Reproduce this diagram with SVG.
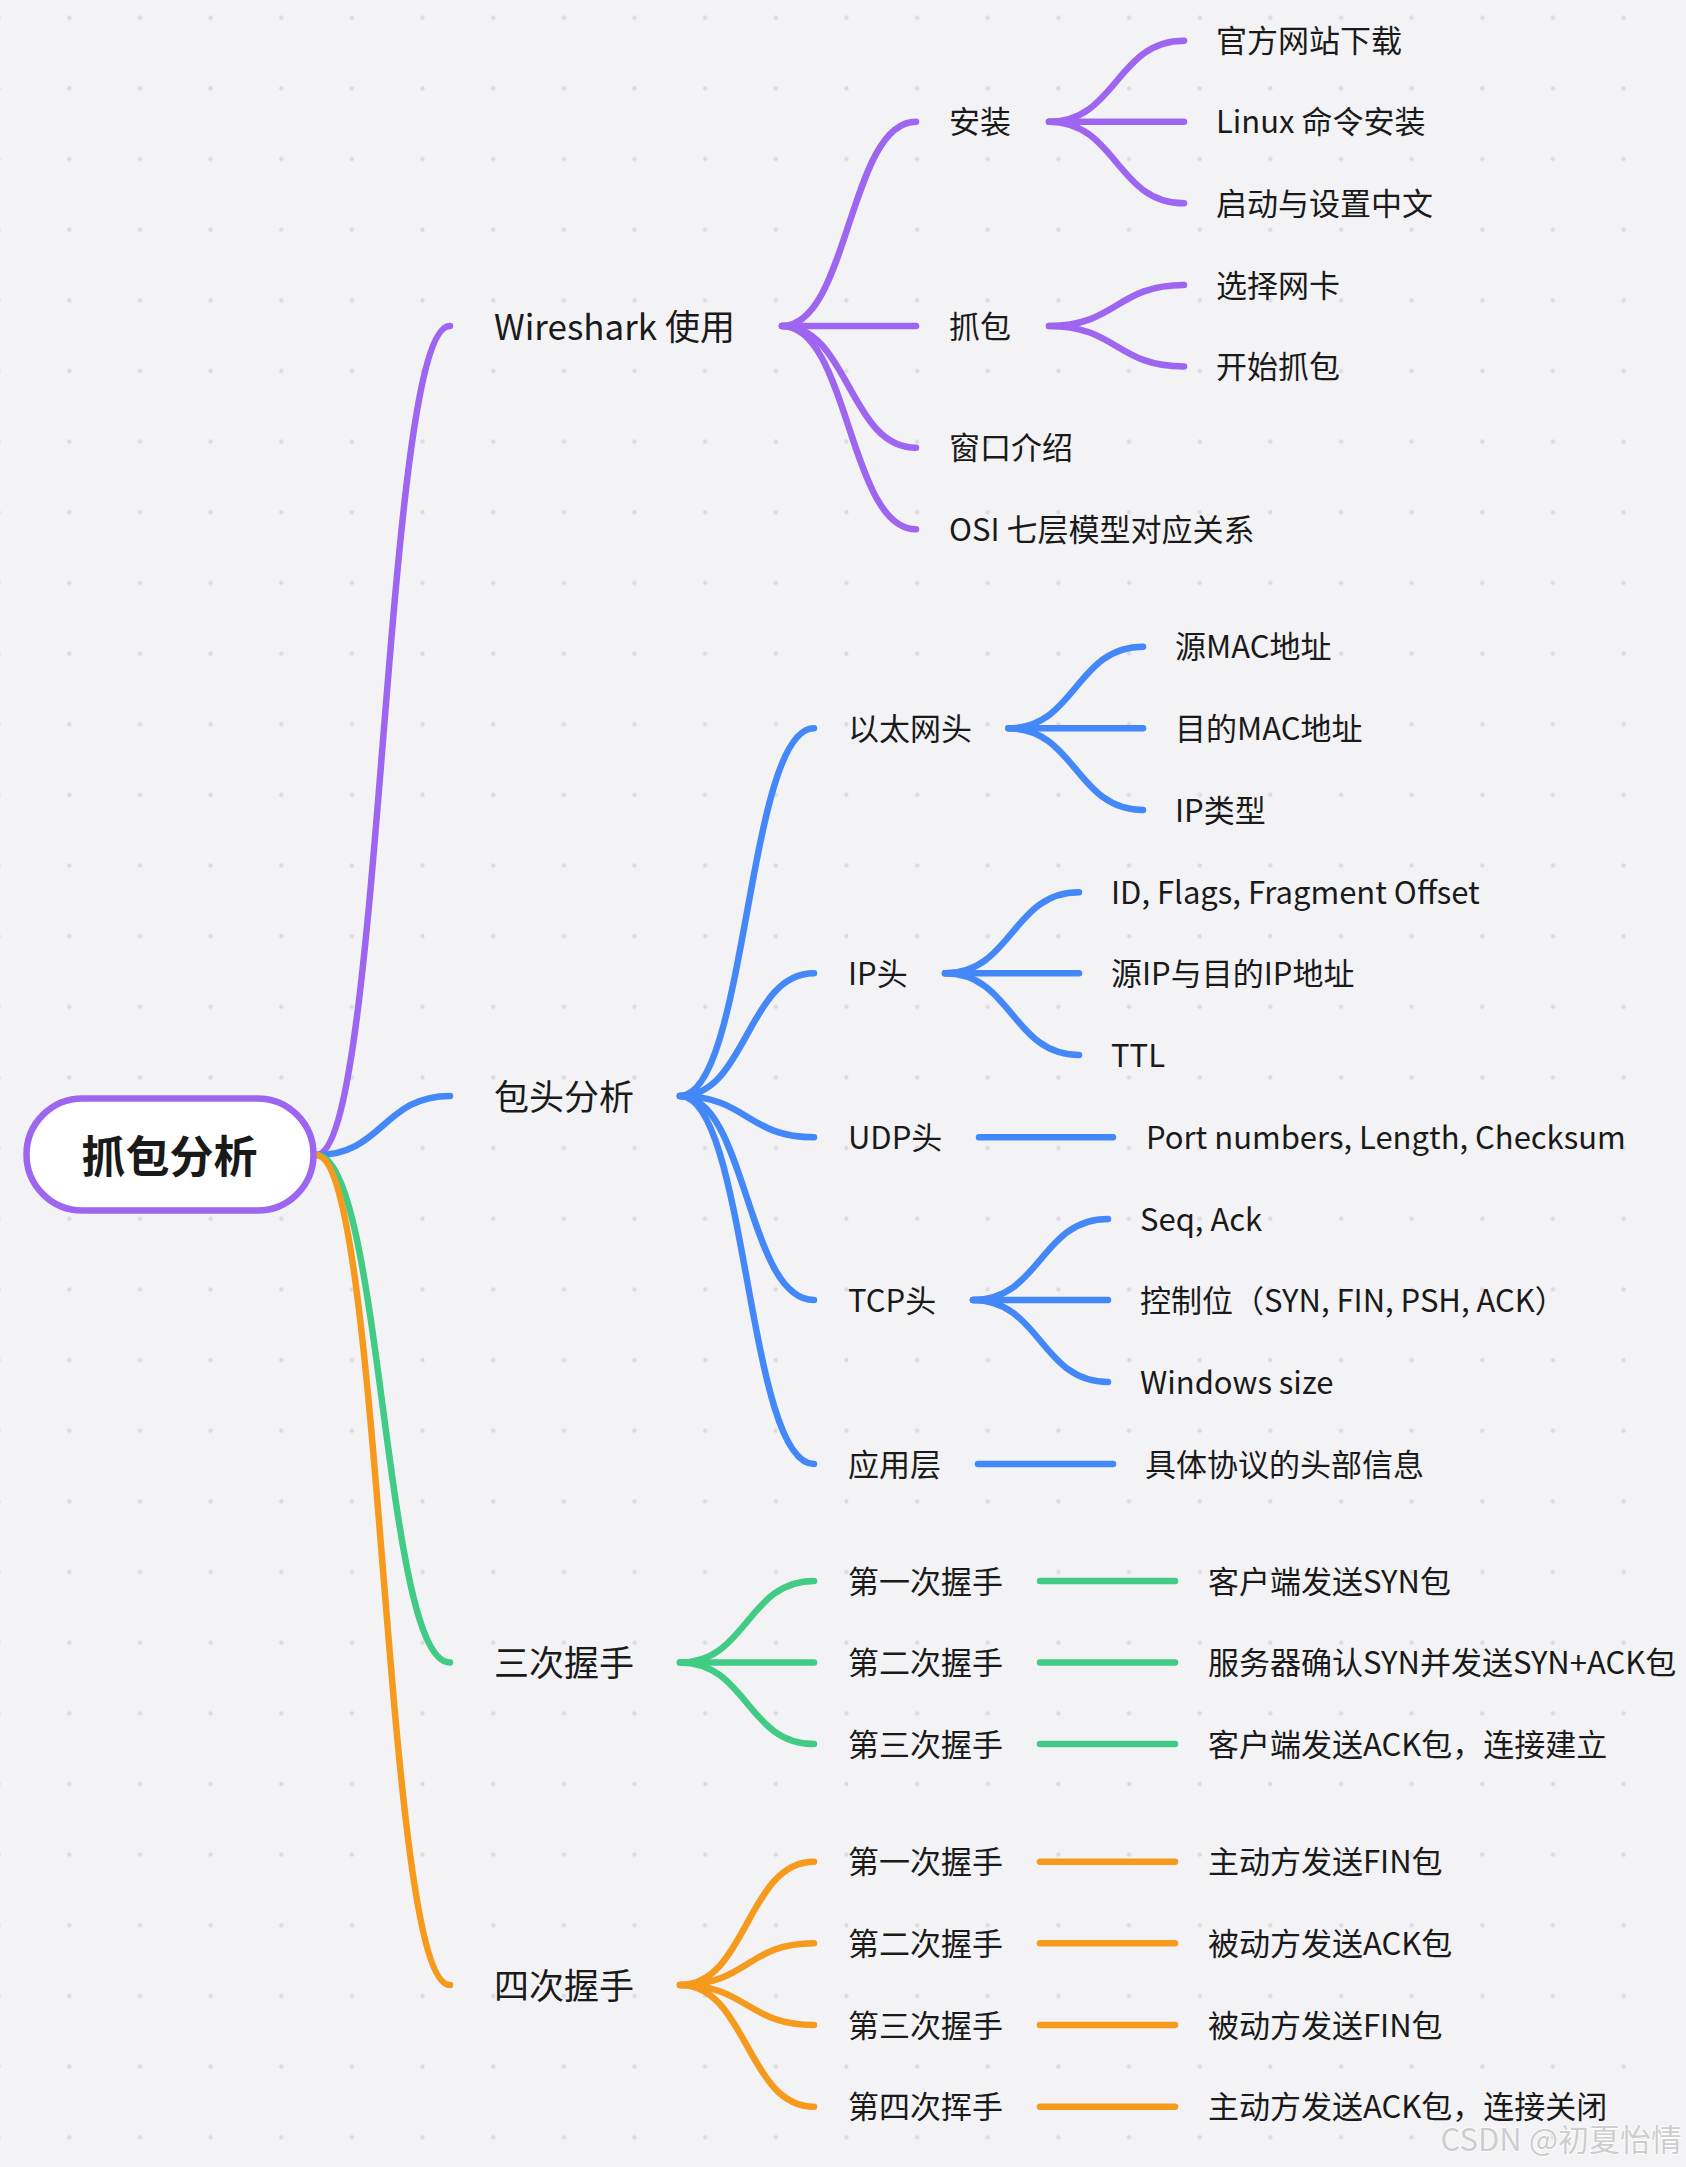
<svg xmlns="http://www.w3.org/2000/svg" width="1686" height="2167" viewBox="0 0 1686 2167">
<defs>
<pattern id="dots" x="34" y="-17.6" width="70.65" height="70.65" patternUnits="userSpaceOnUse">
<circle cx="35.3" cy="35.3" r="2.2" fill="#dcdce0"/>
</pattern>
<style>
.t{font-family:"Noto Sans CJK SC","Noto Sans",sans-serif;fill:#1a1a1a;dominant-baseline:central}
.l1{font-size:35px}
.l2{font-size:31px}
.l3{font-size:31px}
.root{font-size:44px;font-weight:bold;text-anchor:middle}
.c{fill:none;stroke-width:6.5;stroke-linecap:round}
.p{stroke:#9E66F0}
.b{stroke:#4487F8}
.g{stroke:#42CB84}
.o{stroke:#F69A1E}
.wm{font-family:"Noto Sans CJK SC","Noto Sans",sans-serif;font-size:31px;fill:#cdcdcd;stroke:#ffffff;stroke-width:1.5;paint-order:stroke;text-anchor:end;dominant-baseline:central}
</style>
</defs>
<rect width="1686" height="2167" fill="#f3f3f5"/>
<rect width="1686" height="2167" fill="url(#dots)"/>

<g id="connectors">
<path class="c p" d="M316 1155 C383 1155,383 326,450 326"/>
<path class="c b" d="M316 1155 C383 1155,383 1096,450 1096"/>
<path class="c g" d="M316 1155 C383 1155,383 1662.5,450 1662.5"/>
<path class="c o" d="M316 1155 C383 1155,383 1985,450 1985"/>
<path class="c p" d="M782 326 C849 326,849 121.7,916 121.7"/>
<path class="c p" d="M782 326 L916 326"/>
<path class="c p" d="M782 326 C849 326,849 447.7,916 447.7"/>
<path class="c p" d="M782 326 C849 326,849 529.3,916 529.3"/>
<path class="c p" d="M1049 121.7 C1116.5 121.7,1116.5 40.8,1184 40.8"/>
<path class="c p" d="M1049 121.7 L1184 121.7"/>
<path class="c p" d="M1049 121.7 C1116.5 121.7,1116.5 203.3,1184 203.3"/>
<path class="c p" d="M1049 326 C1116.5 326,1116.5 285,1184 285"/>
<path class="c p" d="M1049 326 C1116.5 326,1116.5 366.4,1184 366.4"/>
<path class="c b" d="M680 1096 C747 1096,747 728.3,814 728.3"/>
<path class="c b" d="M680 1096 C747 1096,747 973.3,814 973.3"/>
<path class="c b" d="M680 1096 C747 1096,747 1137.3,814 1137.3"/>
<path class="c b" d="M680 1096 C747 1096,747 1300,814 1300"/>
<path class="c b" d="M680 1096 C747 1096,747 1464,814 1464"/>
<path class="c b" d="M1008.5 728.3 C1075.7 728.3,1075.7 646.7,1143 646.7"/>
<path class="c b" d="M1008.5 728.3 L1143 728.3"/>
<path class="c b" d="M1008.5 728.3 C1075.7 728.3,1075.7 810,1143 810"/>
<path class="c b" d="M945 973.3 C1012 973.3,1012 892.3,1079 892.3"/>
<path class="c b" d="M945 973.3 L1079 973.3"/>
<path class="c b" d="M945 973.3 C1012 973.3,1012 1055,1079 1055"/>
<path class="c b" d="M979 1137.3 L1113 1137.3"/>
<path class="c b" d="M973 1300 C1040.5 1300,1040.5 1219,1108 1219"/>
<path class="c b" d="M973 1300 L1108 1300"/>
<path class="c b" d="M973 1300 C1040.5 1300,1040.5 1382,1108 1382"/>
<path class="c b" d="M978 1464 L1113 1464"/>
<path class="c g" d="M680 1662.5 C747 1662.5,747 1581,814 1581"/>
<path class="c g" d="M680 1662.5 L814 1662.5"/>
<path class="c g" d="M680 1662.5 C747 1662.5,747 1744,814 1744"/>
<path class="c g" d="M1040 1581 L1175 1581"/>
<path class="c g" d="M1040 1662.5 L1175 1662.5"/>
<path class="c g" d="M1040 1744 L1175 1744"/>
<path class="c o" d="M680 1985 C747 1985,747 1861.7,814 1861.7"/>
<path class="c o" d="M680 1985 C747 1985,747 1943.3,814 1943.3"/>
<path class="c o" d="M680 1985 C747 1985,747 2025,814 2025"/>
<path class="c o" d="M680 1985 C747 1985,747 2106.7,814 2106.7"/>
<path class="c o" d="M1040 1861.7 L1175 1861.7"/>
<path class="c o" d="M1040 1943.3 L1175 1943.3"/>
<path class="c o" d="M1040 2025 L1175 2025"/>
<path class="c o" d="M1040 2106.7 L1175 2106.7"/>
</g>

<g id="root">
<rect x="26.5" y="1098.5" width="287" height="112" rx="56" fill="#ffffff" stroke="#9E66F0" stroke-width="6.5"/>
<text class="t root" x="169.5" y="1154">抓包分析</text>
</g>

<g transform="translate(-2,-2)">
<g id="n-wireshark"><text class="t l1" x="496" y="326">Wireshark 使用</text></g>
<g id="n-install"><text class="t l2" x="951" y="121.7">安装</text></g>
<g id="n-download"><text class="t l3" x="1218" y="40.8">官方网站下载</text></g>
<g id="n-linux"><text class="t l3" x="1218" y="121.7">Linux 命令安装</text></g>
<g id="n-start"><text class="t l3" x="1218" y="203.3">启动与设置中文</text></g>
<g id="n-capture"><text class="t l2" x="951" y="326">抓包</text></g>
<g id="n-nic"><text class="t l3" x="1218" y="285">选择网卡</text></g>
<g id="n-begin"><text class="t l3" x="1218" y="366.4">开始抓包</text></g>
<g id="n-window"><text class="t l2" x="951" y="447.7">窗口介绍</text></g>
<g id="n-osi"><text class="t l2" x="951" y="529.3">OSI 七层模型对应关系</text></g>

<g id="n-header"><text class="t l1" x="496" y="1096">包头分析</text></g>
<g id="n-eth"><text class="t l2" x="850" y="728.3">以太网头</text></g>
<g id="n-srcmac"><text class="t l3" x="1177" y="646.7">源MAC地址</text></g>
<g id="n-dstmac"><text class="t l3" x="1177" y="728.3">目的MAC地址</text></g>
<g id="n-iptype"><text class="t l3" x="1177" y="810">IP类型</text></g>
<g id="n-ip"><text class="t l2" x="850" y="973.3">IP头</text></g>
<g id="n-idflags"><text class="t l3" x="1113" y="892.3">ID, Flags, Fragment Offset</text></g>
<g id="n-srcip"><text class="t l3" x="1113" y="973.3">源IP与目的IP地址</text></g>
<g id="n-ttl"><text class="t l3" x="1113" y="1055">TTL</text></g>
<g id="n-udp"><text class="t l2" x="850" y="1137.3">UDP头</text></g>
<g id="n-port"><text class="t l3" x="1148" y="1137.3">Port numbers, Length, Checksum</text></g>
<g id="n-tcp"><text class="t l2" x="850" y="1300">TCP头</text></g>
<g id="n-seq"><text class="t l3" x="1142" y="1219">Seq, Ack</text></g>
<g id="n-ctrl"><text class="t l3" x="1142" y="1300">控制位（SYN, FIN, PSH, ACK）</text></g>
<g id="n-win"><text class="t l3" x="1142" y="1382">Windows size</text></g>
<g id="n-app"><text class="t l2" x="850" y="1464">应用层</text></g>
<g id="n-appinfo"><text class="t l3" x="1147" y="1464">具体协议的头部信息</text></g>

<g id="n-three"><text class="t l1" x="496" y="1662.5">三次握手</text></g>
<g id="n-t1"><text class="t l2" x="850" y="1581">第一次握手</text></g>
<g id="n-t1d"><text class="t l3" x="1210" y="1581">客户端发送SYN包</text></g>
<g id="n-t2"><text class="t l2" x="850" y="1662.5">第二次握手</text></g>
<g id="n-t2d"><text class="t l3" x="1210" y="1662.5">服务器确认SYN并发送SYN+ACK包</text></g>
<g id="n-t3"><text class="t l2" x="850" y="1744">第三次握手</text></g>
<g id="n-t3d"><text class="t l3" x="1210" y="1744">客户端发送ACK包，连接建立</text></g>

<g id="n-four"><text class="t l1" x="496" y="1985">四次握手</text></g>
<g id="n-f1"><text class="t l2" x="850" y="1861.7">第一次握手</text></g>
<g id="n-f1d"><text class="t l3" x="1210" y="1861.7">主动方发送FIN包</text></g>
<g id="n-f2"><text class="t l2" x="850" y="1943.3">第二次握手</text></g>
<g id="n-f2d"><text class="t l3" x="1210" y="1943.3">被动方发送ACK包</text></g>
<g id="n-f3"><text class="t l2" x="850" y="2025">第三次握手</text></g>
<g id="n-f3d"><text class="t l3" x="1210" y="2025">被动方发送FIN包</text></g>
<g id="n-f4"><text class="t l2" x="850" y="2106.7">第四次挥手</text></g>
<g id="n-f4d"><text class="t l3" x="1210" y="2106.7">主动方发送ACK包，连接关闭</text></g>
</g>

<text class="wm" x="1682" y="2137">CSDN @初夏怡情</text>
</svg>
